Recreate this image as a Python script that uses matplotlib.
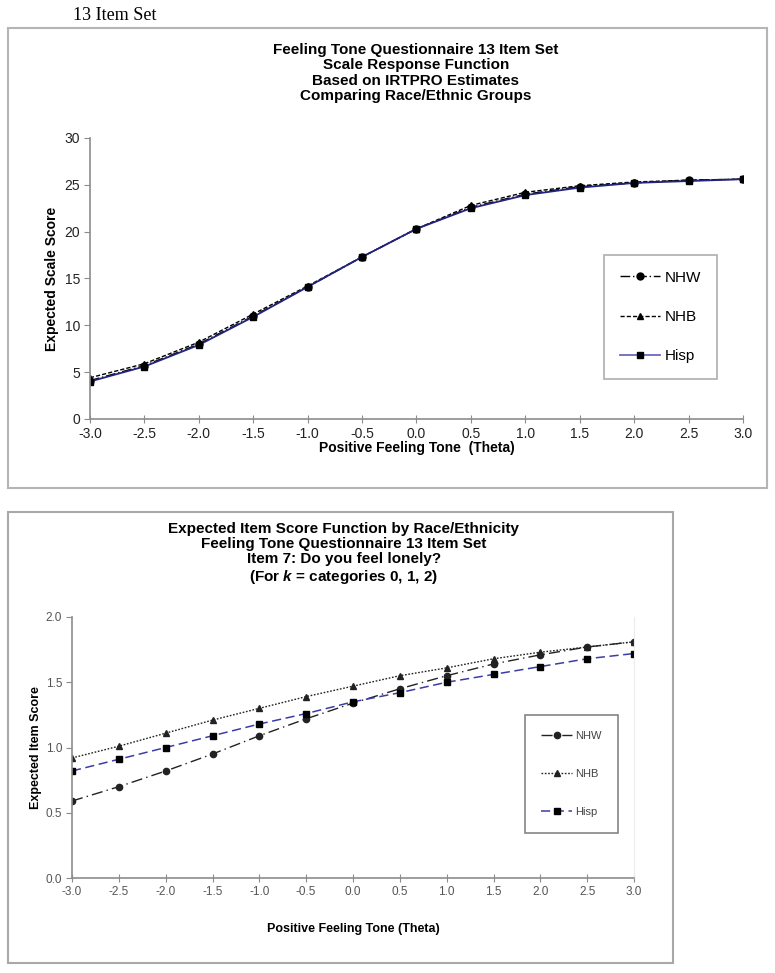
import matplotlib
matplotlib.use("Agg")
import matplotlib.pyplot as plt
from matplotlib.patches import Rectangle
from matplotlib.lines import Line2D

plt.rcParams['font.family'] = ['Liberation Sans', 'DejaVu Sans']
plt.rcParams['mathtext.fontset'] = 'custom'
plt.rcParams['mathtext.it'] = 'Liberation Sans:bold:italic'
plt.rcParams['mathtext.rm'] = 'Liberation Sans:bold'

# theta grid shared by both charts
theta = [-3.0, -2.5, -2.0, -1.5, -1.0, -0.5, 0.0, 0.5, 1.0, 1.5, 2.0, 2.5, 3.0]
tick_labels = ['-3.0', '-2.5', '-2.0', '-1.5', '-1.0', '-0.5', '0.0',
               '0.5', '1.0', '1.5', '2.0', '2.5', '3.0']
groups = ['NHW', 'NHB', 'Hisp']

# scale response function (top chart)
scale_nhw = [4.1, 5.7, 8.0, 11.0, 14.1, 17.3, 20.3, 22.6, 24.0, 24.8, 25.2, 25.5, 25.6]
scale_nhb = [4.4, 5.9, 8.2, 11.2, 14.2, 17.3, 20.3, 22.8, 24.2, 24.9, 25.3, 25.5, 25.6]
scale_hisp = [4.0, 5.6, 7.9, 10.9, 14.1, 17.3, 20.3, 22.5, 23.9, 24.7, 25.2, 25.4, 25.6]

# item 7 expected score (bottom chart)
item_nhw = [0.59, 0.70, 0.82, 0.95, 1.09, 1.22, 1.34, 1.45, 1.55, 1.64, 1.71, 1.77, 1.81]
item_nhb = [0.92, 1.01, 1.11, 1.21, 1.30, 1.39, 1.47, 1.55, 1.61, 1.68, 1.73, 1.77, 1.81]
item_hisp = [0.82, 0.91, 1.00, 1.09, 1.18, 1.26, 1.35, 1.42, 1.50, 1.56, 1.62, 1.68, 1.72]

fig = plt.figure(figsize=(7.75, 9.73), dpi=100)

# outer frames around each chart
fig.patches.append(Rectangle((0.0103, 0.4985), 0.9794, 0.4728, transform=fig.transFigure,
                             fill=False, edgecolor='#b5b5b5', linewidth=1.5))
fig.patches.append(Rectangle((0.0103, 0.0103), 0.858, 0.4635, transform=fig.transFigure,
                             fill=False, edgecolor='#a8a8a8', linewidth=1.5))

fig.text(73 / 775, 1 - 15 / 973, '13 Item Set', family='Liberation Serif',
         fontsize=13, ha='left', va='center')


def style_axes(ax, tick_size, tick_color):
    for s in ['top', 'right']:
        ax.spines[s].set_visible(False)
    for s in ['left', 'bottom']:
        ax.spines[s].set_color('#8c8c8c')
        ax.spines[s].set_linewidth(1.2)
    ax.tick_params(axis='x', direction='inout', length=6, color='#8c8c8c',
                   labelsize=tick_size, labelcolor=tick_color, pad=3)
    ax.tick_params(axis='y', direction='out', length=4, color='#8c8c8c',
                   labelsize=tick_size, labelcolor=tick_color, pad=3)
    ax.set_xlim(-3.0, 3.0)
    ax.set_xticks(theta)
    ax.set_xticklabels(tick_labels)


# ---------- top chart ----------
ax1 = fig.add_axes([0.1161, 0.5694, 0.8426, 0.2888])
nhw_style = dict(color='black', linestyle=(0, (7, 2, 1, 2)), linewidth=1.0, marker='o', markersize=5)
nhb_style = dict(color='black', linestyle=(0, (3, 1.5)), linewidth=1.0, marker='^', markersize=5)
ax1.plot(theta, scale_nhw, **nhw_style)
ax1.plot(theta, scale_nhb, **nhb_style)
ax1.plot(theta, scale_hisp, color='#24247e', linestyle='-', linewidth=1.3,
         marker='s', markersize=5, markeredgecolor='black', markerfacecolor='black')
ax1.set_ylim(0, 30)
ax1.set_yticks([0, 5, 10, 15, 20, 25, 30])
style_axes(ax1, 10, '#222222')
ax1.set_ylabel('Expected Scale Score', fontsize=10, fontweight='bold', labelpad=4)
ax1.set_xlabel('Positive Feeling Tone  (Theta)', fontsize=10, fontweight='bold', labelpad=0)
handles1 = [Line2D([], [], **nhw_style), Line2D([], [], **nhb_style),
            Line2D([], [], color='#6a6ac0', linewidth=1.3, marker='s', markersize=5,
                   markeredgecolor='black', markerfacecolor='black')]
leg1 = ax1.legend(handles1, groups, loc='center', bbox_to_anchor=(0.8523, 0.6742),
                  bbox_transform=fig.transFigure, fontsize=11, frameon=True,
                  fancybox=False, edgecolor='#9a9a9a', labelspacing=1.65,
                  borderpad=1.05, handlelength=2.6, handletextpad=0.3, borderaxespad=0)
leg1.get_frame().set_linewidth(1.2)
fig.text(416 / 775, 1 - 73 / 973,
         'Feeling Tone Questionnaire 13 Item Set\nScale Response Function\n'
         'Based on IRTPRO Estimates\nComparing Race/Ethnic Groups',
         ha='center', va='center', fontsize=11, fontweight='bold', linespacing=1.1)

# ---------- bottom chart ----------
ax2 = fig.add_axes([0.0929, 0.0976, 0.7252, 0.2683])
nhw2 = dict(color='#222222', linestyle=(0, (8, 3, 1, 3)), linewidth=1.0, marker='o', markersize=4.5)
nhb2 = dict(color='#222222', linestyle=(0, (1.2, 1.2)), linewidth=1.0, marker='^', markersize=4.5)
hisp2 = dict(color='#3c3ca8', linestyle=(0, (6, 3)), linewidth=1.1, marker='s', markersize=4.5,
             markeredgecolor='black', markerfacecolor='black')
ax2.plot(theta, item_nhw, **nhw2)
ax2.plot(theta, item_nhb, **nhb2)
ax2.plot(theta, item_hisp, **hisp2)
ax2.set_ylim(0.0, 2.0)
ax2.set_yticks([0.0, 0.5, 1.0, 1.5, 2.0])
ax2.set_yticklabels(['0.0', '0.5', '1.0', '1.5', '2.0'])
style_axes(ax2, 8.5, '#555555')
ax2.spines['right'].set_visible(True)
ax2.spines['right'].set_color('#ececec')
ax2.set_ylabel('Expected Item Score', fontsize=9, fontweight='bold', labelpad=3)
ax2.set_xlabel('Positive Feeling Tone (Theta)', fontsize=9, fontweight='bold', labelpad=18)
handles2 = [Line2D([], [], **nhw2), Line2D([], [], **nhb2), Line2D([], [], **hisp2)]
leg2 = ax2.legend(handles2, groups, loc='center', bbox_to_anchor=(571.5 / 775, 1 - 774 / 973),
                  bbox_transform=fig.transFigure, fontsize=8, frameon=True,
                  fancybox=False, edgecolor='#666666', labelspacing=2.55,
                  borderpad=1.45, handlelength=2.8, handletextpad=0.3, borderaxespad=0)
leg2.get_frame().set_linewidth(1.2)
for t in leg2.get_texts():
    t.set_color('#444444')
fig.text(344 / 775, 1 - 554 / 973,
         'Expected Item Score Function by Race/Ethnicity\n'
         'Feeling Tone Questionnaire 13 Item Set\n'
         'Item 7: Do you feel lonely?\n'
         '(For $k$ = categories 0, 1, 2)',
         ha='center', va='center', fontsize=11, fontweight='bold', linespacing=1.1)

fig.savefig('out.png', dpi=100)
